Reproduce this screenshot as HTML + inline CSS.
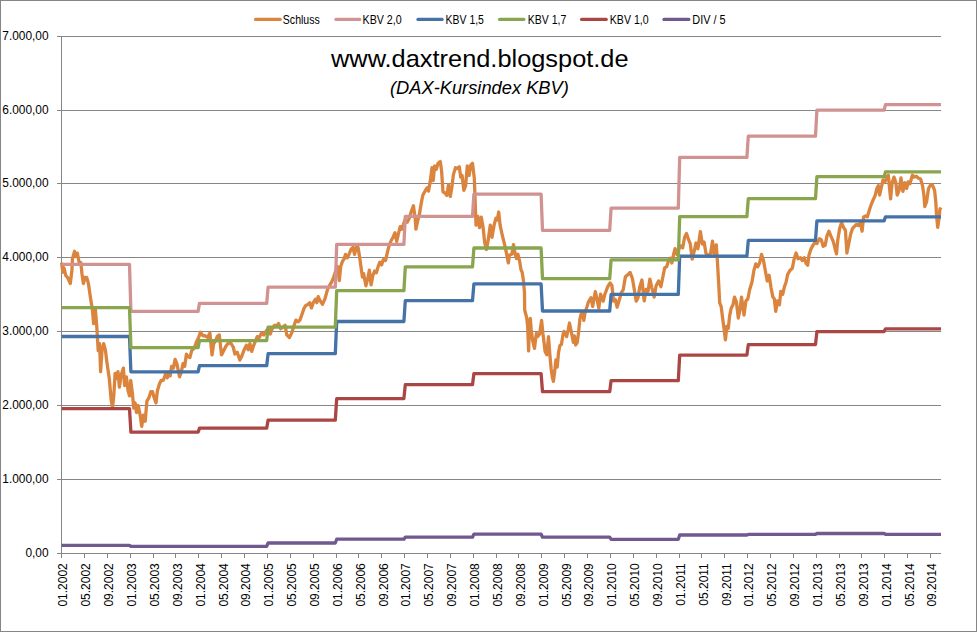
<!DOCTYPE html>
<html><head><meta charset="utf-8"><title>DAX-Kursindex KBV</title>
<style>
html,body{margin:0;padding:0;background:#fff;}
body{width:977px;height:632px;overflow:hidden;font-family:"Liberation Sans",sans-serif;}
svg{display:block;font-family:"Liberation Sans",sans-serif;}
</style></head><body>
<svg width="977" height="632" viewBox="0 0 977 632">
<rect x="0" y="0" width="977" height="632" fill="#ffffff"/>
<rect x="0.5" y="0.5" width="976" height="631" fill="none" stroke="#868686" stroke-width="1"/>

<g stroke="#868686" stroke-width="1" shape-rendering="crispEdges">
<line x1="57" y1="553.5" x2="941" y2="553.5"/>
<line x1="57" y1="479.5" x2="941" y2="479.5"/>
<line x1="57" y1="405.5" x2="941" y2="405.5"/>
<line x1="57" y1="331.5" x2="941" y2="331.5"/>
<line x1="57" y1="257.5" x2="941" y2="257.5"/>
<line x1="57" y1="183.5" x2="941" y2="183.5"/>
<line x1="57" y1="110.5" x2="941" y2="110.5"/>
<line x1="57" y1="36.5" x2="941" y2="36.5"/>
<line x1="61.5" y1="36" x2="61.5" y2="558"/>
<line x1="61.5" y1="554" x2="61.5" y2="558"/>
<line x1="84.5" y1="554" x2="84.5" y2="558"/>
<line x1="107.5" y1="554" x2="107.5" y2="558"/>
<line x1="130.5" y1="554" x2="130.5" y2="558"/>
<line x1="153.5" y1="554" x2="153.5" y2="558"/>
<line x1="175.5" y1="554" x2="175.5" y2="558"/>
<line x1="198.5" y1="554" x2="198.5" y2="558"/>
<line x1="221.5" y1="554" x2="221.5" y2="558"/>
<line x1="244.5" y1="554" x2="244.5" y2="558"/>
<line x1="267.5" y1="554" x2="267.5" y2="558"/>
<line x1="290.5" y1="554" x2="290.5" y2="558"/>
<line x1="313.5" y1="554" x2="313.5" y2="558"/>
<line x1="336.5" y1="554" x2="336.5" y2="558"/>
<line x1="358.5" y1="554" x2="358.5" y2="558"/>
<line x1="381.5" y1="554" x2="381.5" y2="558"/>
<line x1="404.5" y1="554" x2="404.5" y2="558"/>
<line x1="427.5" y1="554" x2="427.5" y2="558"/>
<line x1="450.5" y1="554" x2="450.5" y2="558"/>
<line x1="473.5" y1="554" x2="473.5" y2="558"/>
<line x1="496.5" y1="554" x2="496.5" y2="558"/>
<line x1="518.5" y1="554" x2="518.5" y2="558"/>
<line x1="541.5" y1="554" x2="541.5" y2="558"/>
<line x1="564.5" y1="554" x2="564.5" y2="558"/>
<line x1="587.5" y1="554" x2="587.5" y2="558"/>
<line x1="610.5" y1="554" x2="610.5" y2="558"/>
<line x1="633.5" y1="554" x2="633.5" y2="558"/>
<line x1="656.5" y1="554" x2="656.5" y2="558"/>
<line x1="679.5" y1="554" x2="679.5" y2="558"/>
<line x1="701.5" y1="554" x2="701.5" y2="558"/>
<line x1="724.5" y1="554" x2="724.5" y2="558"/>
<line x1="747.5" y1="554" x2="747.5" y2="558"/>
<line x1="770.5" y1="554" x2="770.5" y2="558"/>
<line x1="793.5" y1="554" x2="793.5" y2="558"/>
<line x1="816.5" y1="554" x2="816.5" y2="558"/>
<line x1="839.5" y1="554" x2="839.5" y2="558"/>
<line x1="861.5" y1="554" x2="861.5" y2="558"/>
<line x1="884.5" y1="554" x2="884.5" y2="558"/>
<line x1="907.5" y1="554" x2="907.5" y2="558"/>
<line x1="930.5" y1="554" x2="930.5" y2="558"/>
</g>
<g font-size="11.9" fill="#000" text-anchor="end">
<text x="48.6" y="557.1">0,00</text>
<text x="48.6" y="483.1">1.000,00</text>
<text x="48.6" y="409.1">2.000,00</text>
<text x="48.6" y="335.1">3.000,00</text>
<text x="48.6" y="261.1">4.000,00</text>
<text x="48.6" y="187.1">5.000,00</text>
<text x="48.6" y="114.1">6.000,00</text>
<text x="48.6" y="40.1">7.000,00</text>
</g>
<g font-size="12" fill="#000" text-anchor="end">
<text transform="translate(67.4 563.2) rotate(-90)">01.2002</text>
<text transform="translate(90.3 563.2) rotate(-90)">05.2002</text>
<text transform="translate(113.1 563.2) rotate(-90)">09.2002</text>
<text transform="translate(136.0 563.2) rotate(-90)">01.2003</text>
<text transform="translate(158.9 563.2) rotate(-90)">05.2003</text>
<text transform="translate(181.7 563.2) rotate(-90)">09.2003</text>
<text transform="translate(204.6 563.2) rotate(-90)">01.2004</text>
<text transform="translate(227.5 563.2) rotate(-90)">05.2004</text>
<text transform="translate(250.3 563.2) rotate(-90)">09.2004</text>
<text transform="translate(273.2 563.2) rotate(-90)">01.2005</text>
<text transform="translate(296.1 563.2) rotate(-90)">05.2005</text>
<text transform="translate(318.9 563.2) rotate(-90)">09.2005</text>
<text transform="translate(341.8 563.2) rotate(-90)">01.2006</text>
<text transform="translate(364.7 563.2) rotate(-90)">05.2006</text>
<text transform="translate(387.6 563.2) rotate(-90)">09.2006</text>
<text transform="translate(410.4 563.2) rotate(-90)">01.2007</text>
<text transform="translate(433.3 563.2) rotate(-90)">05.2007</text>
<text transform="translate(456.2 563.2) rotate(-90)">09.2007</text>
<text transform="translate(479.0 563.2) rotate(-90)">01.2008</text>
<text transform="translate(501.9 563.2) rotate(-90)">05.2008</text>
<text transform="translate(524.8 563.2) rotate(-90)">09.2008</text>
<text transform="translate(547.6 563.2) rotate(-90)">01.2009</text>
<text transform="translate(570.5 563.2) rotate(-90)">05.2009</text>
<text transform="translate(593.4 563.2) rotate(-90)">09.2009</text>
<text transform="translate(616.2 563.2) rotate(-90)">01.2010</text>
<text transform="translate(639.1 563.2) rotate(-90)">05.2010</text>
<text transform="translate(662.0 563.2) rotate(-90)">09.2010</text>
<text transform="translate(684.8 563.2) rotate(-90)">01.2011</text>
<text transform="translate(707.7 563.2) rotate(-90)">05.2011</text>
<text transform="translate(730.6 563.2) rotate(-90)">09.2011</text>
<text transform="translate(753.4 563.2) rotate(-90)">01.2012</text>
<text transform="translate(776.3 563.2) rotate(-90)">05.2012</text>
<text transform="translate(799.2 563.2) rotate(-90)">09.2012</text>
<text transform="translate(822.0 563.2) rotate(-90)">01.2013</text>
<text transform="translate(844.9 563.2) rotate(-90)">05.2013</text>
<text transform="translate(867.8 563.2) rotate(-90)">09.2013</text>
<text transform="translate(890.6 563.2) rotate(-90)">01.2014</text>
<text transform="translate(913.5 563.2) rotate(-90)">05.2014</text>
<text transform="translate(936.4 563.2) rotate(-90)">09.2014</text>
</g>
<g fill="none" stroke-width="3.3" stroke-linejoin="round" stroke-linecap="butt">
<path stroke="#DB843D" d="M61.6 262.6 L62.8 272.2 L64.0 267.9 L65.8 275.7 L67.5 277.4 L70.3 283.5 L71.9 270.5 L72.4 259.2 L74.5 251.3 L75.9 256.5 L77.3 253.1 L79.0 261.8 L80.8 262.6 L82.0 274.0 L83.4 283.5 L84.9 277.4 L86.7 277.4 L88.4 283.5 L90.7 299.2 L92.4 309.6 L93.6 323.6 L95.4 309.6 L96.8 327.0 L98.2 350.7 L99.6 343.7 L100.6 371.6 L102.0 350.7 L103.7 343.7 L105.5 350.7 L107.2 364.6 L109.3 378.5 L111.1 399.4 L112.5 407.2 L113.8 395.9 L115.1 373.3 L116.8 378.5 L118.0 371.6 L119.4 387.2 L121.2 375.0 L123.4 368.1 L124.6 385.5 L126.4 376.8 L128.1 390.7 L129.5 395.9 L130.7 380.3 L132.5 394.2 L133.7 408.1 L135.1 402.9 L136.5 412.5 L138.2 405.5 L140.3 416.0 L141.7 426.4 L143.4 415.1 L145.2 421.2 L146.9 401.2 L149.0 397.7 L150.8 391.6 L152.5 391.6 L154.2 397.7 L156.0 402.9 L157.4 390.7 L159.5 383.7 L161.2 380.3 L163.3 380.3 L165.5 374.2 L167.3 377.7 L169.0 372.4 L170.2 375.9 L171.6 366.3 L173.4 368.1 L175.1 359.4 L176.9 363.7 L179.5 376.8 L181.2 372.4 L183.0 363.7 L184.7 366.3 L186.4 354.2 L188.2 356.8 L189.9 357.6 L191.7 350.7 L194.3 348.1 L196.4 342.0 L198.6 337.6 L200.4 332.3 L203.0 335.8 L205.0 335.7 L207.6 337.5 L209.9 333.1 L212.0 354.9 L213.7 343.6 L215.1 341.8 L217.2 336.6 L219.3 334.9 L221.5 354.9 L223.8 350.5 L225.9 346.2 L228.5 342.7 L231.1 343.6 L233.2 347.0 L234.9 354.0 L237.2 352.3 L239.8 360.1 L241.6 356.6 L244.2 349.7 L246.4 345.3 L248.2 349.7 L249.9 343.6 L251.7 351.4 L253.7 345.3 L255.8 340.1 L257.2 336.6 L259.3 337.5 L261.6 333.1 L263.8 334.9 L265.9 331.4 L268.5 327.9 L270.3 334.0 L272.5 327.9 L274.6 325.3 L276.7 326.2 L278.5 323.5 L280.7 328.8 L283.0 327.0 L285.1 325.3 L286.8 334.9 L289.4 337.5 L291.7 333.1 L293.8 326.2 L295.9 320.1 L298.1 321.8 L299.9 320.1 L302.1 314.0 L304.2 307.9 L306.0 305.3 L308.1 304.4 L309.8 302.7 L311.5 307.9 L313.3 302.7 L315.5 299.2 L316.8 302.7 L318.2 296.6 L320.2 300.9 L322.5 304.4 L324.8 299.2 L327.6 289.2 L329.9 284.9 L332.0 281.4 L333.7 277.0 L335.4 271.8 L337.5 266.6 L339.3 280.5 L340.7 266.6 L342.4 261.4 L344.2 258.8 L345.5 254.4 L347.3 257.9 L349.0 254.4 L351.1 249.2 L352.9 247.5 L354.6 254.4 L356.3 246.6 L358.1 247.5 L359.5 256.2 L361.2 268.3 L362.4 277.0 L363.6 273.6 L365.9 285.8 L367.7 278.8 L369.4 270.1 L371.1 284.9 L372.9 275.3 L374.6 271.0 L376.4 272.7 L378.1 266.6 L379.8 262.2 L381.6 264.9 L383.3 259.6 L385.6 260.5 L387.3 252.7 L389.1 245.7 L391.2 240.5 L393.2 237.0 L395.0 232.7 L396.7 241.4 L398.5 233.5 L400.2 226.6 L401.6 229.2 L403.3 224.8 L405.1 219.6 L407.2 222.2 L409.4 217.9 L411.2 211.8 L413.4 205.7 L415.2 218.7 L415.9 229.2 L417.6 221.3 L419.4 214.4 L421.1 203.9 L422.8 195.2 L425.5 190.3 L427.3 187.7 L428.5 191.1 L430.2 181.6 L432.0 167.6 L433.2 180.7 L434.6 165.9 L436.3 169.4 L438.1 163.3 L440.3 161.5 L441.6 171.1 L443.0 192.0 L445.0 192.9 L446.8 195.5 L448.5 185.0 L450.3 196.4 L451.7 188.5 L453.4 174.6 L455.5 167.6 L457.2 168.5 L459.3 166.8 L460.7 177.2 L462.1 175.5 L463.8 190.3 L465.6 185.9 L467.3 165.9 L469.1 175.5 L470.8 165.0 L472.5 163.3 L474.3 178.1 L475.0 197.2 L476.0 225.1 L477.8 216.4 L479.5 227.7 L481.3 217.2 L483.0 226.8 L484.7 242.5 L486.5 249.5 L488.2 239.9 L490.3 225.1 L492.0 237.3 L494.1 225.1 L495.9 218.1 L497.3 219.9 L498.7 212.0 L500.1 225.1 L502.2 235.0 L504.8 245.4 L506.5 253.3 L508.3 262.9 L509.5 255.0 L511.8 254.2 L513.5 244.6 L515.2 254.2 L516.5 258.5 L517.9 254.2 L519.6 261.1 L521.0 269.8 L522.2 272.4 L523.4 280.3 L524.5 292.5 L524.7 310.0 L526.7 317.8 L527.7 326.9 L528.6 350.9 L529.3 329.5 L530.3 318.4 L531.2 329.5 L532.5 339.8 L534.5 348.3 L535.5 339.8 L536.4 333.4 L537.7 336.6 L539.6 334.0 L541.6 320.4 L542.9 333.4 L544.2 343.7 L545.1 351.5 L546.8 354.8 L548.5 336.6 L549.8 354.1 L551.1 368.4 L552.4 377.5 L553.4 381.4 L554.6 372.3 L555.9 359.9 L557.2 367.1 L558.5 352.8 L559.8 345.7 L561.4 344.4 L563.0 334.6 L564.0 331.4 L565.3 333.4 L566.6 336.6 L568.2 329.5 L569.5 323.0 L570.8 329.5 L572.1 335.9 L573.4 342.4 L574.4 335.9 L575.7 345.0 L577.3 342.4 L578.6 332.1 L579.9 319.1 L581.2 313.9 L582.5 312.6 L583.8 320.4 L585.1 312.6 L586.6 308.1 L588.4 302.0 L591.0 297.7 L592.7 306.4 L595.3 291.6 L597.1 299.4 L598.8 308.1 L600.6 294.2 L603.2 301.2 L604.9 294.2 L607.5 287.2 L610.1 282.9 L611.9 285.5 L613.6 301.2 L615.3 299.4 L617.1 307.2 L619.7 298.5 L621.4 292.5 L623.2 289.8 L625.4 276.8 L627.5 275.0 L630.1 272.4 L632.4 278.5 L634.5 290.7 L636.2 301.2 L638.0 297.7 L639.7 287.2 L641.9 280.0 L644.2 300.9 L646.1 289.5 L648.0 291.4 L649.9 279.1 L651.8 287.6 L654.2 297.1 L656.1 285.7 L658.6 281.0 L660.9 286.7 L662.8 277.2 L664.7 267.7 L666.6 266.8 L668.5 261.1 L670.4 258.2 L671.9 263.0 L673.8 253.5 L675.1 248.7 L677.0 254.4 L678.9 248.7 L680.8 245.9 L682.7 247.8 L684.6 237.3 L686.5 233.5 L688.4 239.2 L690.3 244.0 L692.2 259.2 L694.1 251.6 L696.0 243.0 L697.9 248.7 L700.4 231.6 L702.3 244.0 L704.1 242.1 L706.0 253.5 L708.3 255.4 L710.6 253.5 L712.5 241.1 L714.0 253.5 L716.3 244.9 L717.4 261.1 L718.8 285.7 L719.7 302.8 L721.2 306.6 L722.6 318.0 L723.9 327.5 L725.4 339.8 L726.9 326.5 L728.3 328.4 L729.6 316.1 L731.1 308.5 L733.0 304.7 L734.5 297.1 L736.4 301.9 L738.3 318.0 L740.2 308.5 L741.5 297.1 L744.0 315.1 L745.9 300.9 L747.8 299.0 L749.7 289.5 L752.0 281.9 L753.9 270.5 L755.8 263.9 L757.7 266.8 L759.6 263.0 L761.5 254.4 L763.4 260.1 L765.3 270.5 L767.2 281.0 L769.1 275.3 L771.0 287.6 L772.9 297.1 L774.4 299.0 L775.7 311.4 L777.6 300.9 L779.5 304.7 L780.8 291.4 L782.7 294.3 L784.2 287.6 L786.1 281.9 L787.7 274.3 L789.9 270.5 L792.3 268.2 L794.2 258.7 L796.1 253.0 L798.0 258.7 L800.4 257.7 L802.3 260.6 L804.2 257.7 L806.1 263.4 L807.7 265.3 L809.0 254.9 L810.9 249.2 L812.8 245.4 L815.1 242.6 L817.0 243.5 L819.4 238.8 L821.3 239.7 L823.2 246.4 L825.1 245.4 L827.0 235.9 L828.9 231.2 L830.8 235.9 L833.3 241.6 L835.2 249.2 L836.5 253.9 L837.8 239.7 L839.7 228.3 L841.6 222.6 L843.5 227.4 L845.4 230.2 L846.9 253.0 L848.8 243.5 L850.7 234.0 L852.6 228.3 L854.5 226.4 L856.4 224.5 L858.3 225.5 L860.2 222.6 L862.1 231.2 L863.6 216.9 L865.5 216.0 L867.4 216.9 L869.3 210.3 L871.2 204.6 L873.1 199.9 L875.0 196.1 L876.9 188.5 L878.3 185.6 L879.6 195.1 L881.1 188.5 L883.0 179.9 L884.9 181.8 L886.8 177.1 L888.3 175.2 L889.6 188.5 L890.6 198.9 L892.1 182.8 L894.0 177.1 L895.9 182.8 L897.2 195.1 L899.1 190.4 L901.0 178.0 L902.9 191.3 L904.8 182.8 L906.7 188.5 L908.1 181.8 L909.9 183.7 L912.4 175.2 L914.3 177.1 L916.2 176.1 L918.1 178.0 L920.6 179.0 L922.5 185.6 L923.8 194.2 L924.8 206.5 L926.6 201.8 L928.5 188.5 L930.8 184.7 L932.7 185.6 L934.6 190.4 L935.8 201.8 L936.5 215.0 L937.7 227.4 L939.0 218.8 L939.9 209.3 L940.9 207.4"/>
<path stroke="#D19392" d="M61.6 264.4 L129.5 264.4 L130.9 311.4 L198.1 311.4 L199.5 303.3 L266.7 303.3 L268.1 287.2 L335.3 287.2 L336.7 244.3 L403.9 244.3 L405.3 216.4 L472.5 216.4 L473.9 194.2 L541.1 194.2 L542.5 230.3 L609.7 230.3 L611.1 208.2 L678.3 208.2 L679.7 157.3 L746.9 157.3 L748.3 136.1 L815.5 136.1 L816.9 110.1 L884.1 110.1 L885.5 104.7 L941.0 104.7"/>
<path stroke="#4572A7" d="M61.6 336.5 L129.5 336.5 L130.9 371.8 L198.1 371.8 L199.5 365.7 L266.7 365.7 L268.1 353.6 L335.3 353.6 L336.7 321.5 L403.9 321.5 L405.3 300.6 L472.5 300.6 L473.9 283.9 L541.1 283.9 L542.5 311.0 L609.7 311.0 L611.1 294.4 L678.3 294.4 L679.7 256.2 L746.9 256.2 L748.3 240.4 L815.5 240.4 L816.9 220.9 L884.1 220.9 L885.5 216.8 L941.0 216.8"/>
<path stroke="#89A54E" d="M61.6 307.7 L129.5 307.7 L130.9 347.6 L198.1 347.6 L199.5 340.7 L266.7 340.7 L268.1 327.1 L335.3 327.1 L336.7 290.6 L403.9 290.6 L405.3 266.9 L472.5 266.9 L473.9 248.0 L541.1 248.0 L542.5 278.7 L609.7 278.7 L611.1 259.9 L678.3 259.9 L679.7 216.6 L746.9 216.6 L748.3 198.7 L815.5 198.7 L816.9 176.6 L884.1 176.6 L885.5 171.9 L941.0 171.9"/>
<path stroke="#AA4643" d="M61.6 408.7 L129.5 408.7 L130.9 432.2 L198.1 432.2 L199.5 428.1 L266.7 428.1 L268.1 420.1 L335.3 420.1 L336.7 398.6 L403.9 398.6 L405.3 384.7 L472.5 384.7 L473.9 373.6 L541.1 373.6 L542.5 391.7 L609.7 391.7 L611.1 380.6 L678.3 380.6 L679.7 355.1 L746.9 355.1 L748.3 344.6 L815.5 344.6 L816.9 331.6 L884.1 331.6 L885.5 328.8 L941.0 328.8"/>
<path stroke="#71588F" d="M61.6 545.3 L129.5 545.3 L130.9 546.3 L198.1 546.3 L199.5 546.3 L266.7 546.3 L268.1 543.0 L335.3 543.0 L336.7 539.2 L403.9 539.2 L405.3 537.2 L472.5 537.2 L473.9 534.1 L541.1 534.1 L542.5 537.2 L609.7 537.2 L611.1 539.3 L678.3 539.3 L679.7 535.0 L746.9 535.0 L748.3 534.4 L815.5 534.4 L816.9 533.5 L884.1 533.5 L885.5 534.4 L941.0 534.4"/>
</g>
<g font-size="12.5" fill="#000">
<line x1="255.6" y1="19.4" x2="280.2" y2="19.4" stroke="#DB843D" stroke-width="3.3" stroke-linecap="round"/>
<text x="282.8" y="23.5" textLength="37.0" lengthAdjust="spacingAndGlyphs">Schluss</text>
<line x1="336.0" y1="19.4" x2="359.7" y2="19.4" stroke="#D19392" stroke-width="3.3" stroke-linecap="round"/>
<text x="362.6" y="23.5" textLength="39.1" lengthAdjust="spacingAndGlyphs">KBV 2,0</text>
<line x1="418.0" y1="19.4" x2="442.1" y2="19.4" stroke="#4572A7" stroke-width="3.3" stroke-linecap="round"/>
<text x="445.6" y="23.5" textLength="38.3" lengthAdjust="spacingAndGlyphs">KBV 1,5</text>
<line x1="499.6" y1="19.4" x2="523.8" y2="19.4" stroke="#89A54E" stroke-width="3.3" stroke-linecap="round"/>
<text x="527.8" y="23.5" textLength="38.6" lengthAdjust="spacingAndGlyphs">KBV 1,7</text>
<line x1="581.6" y1="19.4" x2="606.2" y2="19.4" stroke="#AA4643" stroke-width="3.3" stroke-linecap="round"/>
<text x="609.8" y="23.5" textLength="38.8" lengthAdjust="spacingAndGlyphs">KBV 1,0</text>
<line x1="664.0" y1="19.4" x2="688.8" y2="19.4" stroke="#71588F" stroke-width="3.3" stroke-linecap="round"/>
<text x="692.3" y="23.5" textLength="33.4" lengthAdjust="spacingAndGlyphs">DIV / 5</text>
</g>
<text x="331.0" y="66.5" font-size="24.6" fill="#000" textLength="297.6" lengthAdjust="spacingAndGlyphs">www.daxtrend.blogspot.de</text>
<text x="390.0" y="94.2" font-size="18.2" font-style="italic" fill="#000" textLength="178.8" lengthAdjust="spacingAndGlyphs">(DAX-Kursindex KBV)</text>
</svg></body></html>
